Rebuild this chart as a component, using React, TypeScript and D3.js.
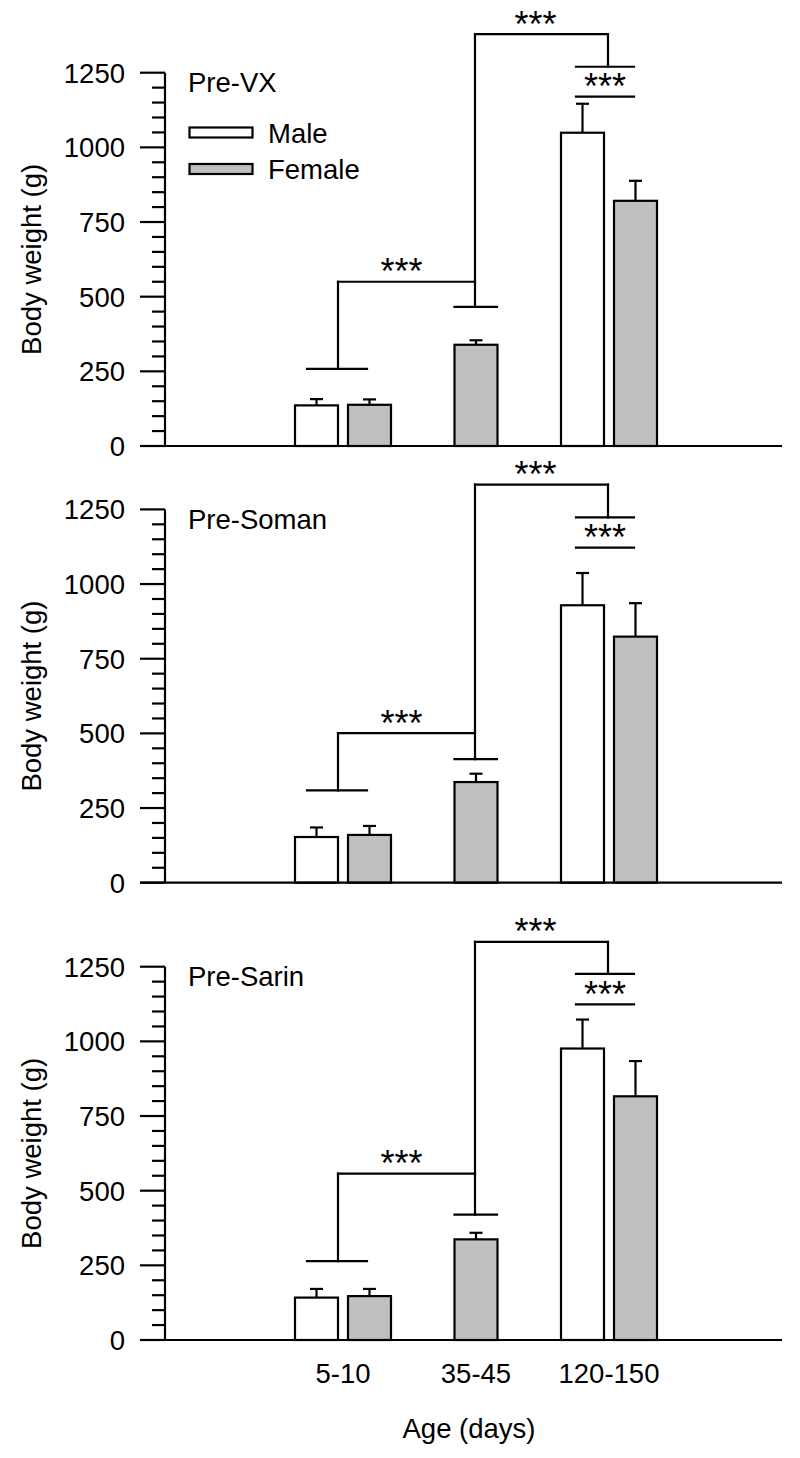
import React from "react";
import * as d3 from "d3";

// ---------- data ----------
const categories = ["5-10", "35-45", "120-150"];
const panelTitles = ["Pre-VX", "Pre-Soman", "Pre-Sarin"];
const yTickValues = d3.range(0, 1251, 50);

// means (g); null = no bar
const vxMale = [136, null, 1049];
const vxFemale = [138, 339, 821];
const vxMaleSem = [21, null, 97];
const vxFemaleSem = [18, 15, 67];

const somanMale = [153, null, 929];
const somanFemale = [160, 337, 824];
const somanMaleSem = [32, null, 108];
const somanFemaleSem = [30, 28, 112];

const sarinMale = [142, null, 976];
const sarinFemale = [147, 337, 816];
const sarinMaleSem = [29, null, 97];
const sarinFemaleSem = [24, 22, 118];

// significance bracket levels (g): [young base, young join, juvenile base, adult join, adult base, sex line]
const vxBrackets = [258, 550, 466, 1379, 1270, 1170];
const somanBrackets = [309, 501, 414, 1333, 1223, 1122];
const sarinBrackets = [264, 557, 420, 1333, 1226, 1124];

const legendLabels = ["Male", "Female"];

// ---------- layout ----------
const W = 800;
const H = 1458;
const axisX = 165;
const axisEnd = 782;
const panelZeroY = [446, 882.7, 1340];
const panelHeight = 373.3;
const barW = 43;
const barOffset = 26.5;
const FONT = "'Liberation Sans', Arial, Helvetica, sans-serif";
const FS = 27.5;
const GRAY = "#c0c0c0";
const SW = 2.2;

const x = d3.scalePoint<string>().domain(categories).range([343, 609]);

const panelData = [
  { male: vxMale, female: vxFemale, maleSem: vxMaleSem, femaleSem: vxFemaleSem, br: vxBrackets },
  { male: somanMale, female: somanFemale, maleSem: somanMaleSem, femaleSem: somanFemaleSem, br: somanBrackets },
  { male: sarinMale, female: sarinFemale, maleSem: sarinMaleSem, femaleSem: sarinFemaleSem, br: sarinBrackets },
];

function Panel({ idx }: { idx: number }) {
  const d = panelData[idx];
  const y0 = panelZeroY[idx];
  const y = d3.scaleLinear().domain([0, 1250]).range([y0, y0 - panelHeight]);

  const bars: any[] = [];
  categories.forEach((c, i) => {
    const cx = x(c)!;
    const hasMale = d.male[i] != null;
    const entries: [number | null, number | null, string, number][] = [
      [d.male[i], d.maleSem[i], "white", hasMale ? cx - barOffset : cx],
      [d.female[i], d.femaleSem[i], GRAY, hasMale ? cx + barOffset : cx],
    ];
    entries.forEach(([v, s, fill, bx], j) => {
      if (v == null) return;
      const top = y(v);
      const errTop = y(v + (s as number));
      bars.push(
        <g key={`${c}-${j}`}>
          <line x1={bx} x2={bx} y1={top} y2={errTop} stroke="black" strokeWidth={SW} />
          <line x1={bx - 6.5} x2={bx + 6.5} y1={errTop} y2={errTop} stroke="black" strokeWidth={SW} />
          <rect x={bx - barW / 2} y={top} width={barW} height={y(0) - top} fill={fill} stroke="black" strokeWidth={SW} />
        </g>
      );
    });
  });

  const [youngBase, youngJoin, juvBase, adultJoin, adultBase, sexLine] = d.br;
  const xYoung = x(categories[0])! - 5;
  const xJuv = x(categories[1])! - 1;
  const xAdult = x(categories[2])! - 1;
  const xAdultShort = x(categories[2])! - 4;
  const ln = (x1: number, y1: number, x2: number, y2: number, k: string) => (
    <line key={k} x1={x1} y1={y1} x2={x2} y2={y2} stroke="black" strokeWidth={SW} strokeLinecap="square" />
  );
  const stars = (cx: number, baseY: number, k: string) => (
    <text key={k} x={cx} y={baseY + 2.5} textAnchor="middle" fontFamily={FONT} fontSize={36}>
      ***
    </text>
  );

  return (
    <g>
      {/* y axis */}
      <line x1={axisX} x2={axisX} y1={y(0)} y2={y(1250)} stroke="black" strokeWidth={SW} />
      {yTickValues.map((t) => {
        const major = t % 250 === 0;
        return (
          <g key={t}>
            <line x1={major ? 140 : 152} x2={axisX} y1={y(t)} y2={y(t)} stroke="black" strokeWidth={SW} />
            {major && (
              <text x={125} y={y(t)} dy="0.36em" textAnchor="end" fontFamily={FONT} fontSize={FS}>
                {t}
              </text>
            )}
          </g>
        );
      })}
      <text
        transform={`translate(41.4,${(y(0) + y(1250)) / 2}) rotate(-90)`}
        textAnchor="middle"
        fontFamily={FONT}
        fontSize={FS}
      >
        Body weight (g)
      </text>
      {/* title */}
      <text x={188} y={y(1250) + 19.7} fontFamily={FONT} fontSize={FS}>
        {panelTitles[idx]}
      </text>
      {bars}
      {/* x axis */}
      <line x1={140} x2={axisEnd} y1={y(0)} y2={y(0)} stroke="black" strokeWidth={SW} />
      {/* brackets */}
      {ln(xYoung - 31, y(youngBase), xYoung + 29, y(youngBase), "a1")}
      {ln(xYoung, y(youngBase), xYoung, y(youngJoin), "a2")}
      {ln(xYoung, y(youngJoin), xJuv, y(youngJoin), "a3")}
      {ln(xJuv - 20.5, y(juvBase), xJuv + 22, y(juvBase), "b1")}
      {ln(xJuv, y(juvBase), xJuv, y(adultJoin), "b2")}
      {ln(xJuv, y(adultJoin), xAdult, y(adultJoin), "b3")}
      {ln(xAdult, y(adultJoin), xAdult, y(adultBase), "b4")}
      {ln(xAdultShort - 29, y(adultBase), xAdultShort + 29, y(adultBase), "b5")}
      {ln(xAdultShort - 29, y(sexLine), xAdultShort + 29, y(sexLine), "c1")}
      {stars((xYoung + xJuv) / 2 - 5, y(youngJoin), "s1")}
      {stars((xJuv + xAdult) / 2 - 6, y(adultJoin), "s2")}
      {stars(xAdultShort, y(sexLine), "s3")}
      {idx === 0 && (
        <g>
          {legendLabels.map((l, i) => (
            <g key={l}>
              <rect x={189.5} y={127.5 + i * 36.5} width={63} height={10} fill={i === 0 ? "white" : GRAY} stroke="black" strokeWidth={SW} />
              <text x={268} y={142.6 + i * 36} fontFamily={FONT} fontSize={FS}>
                {l}
              </text>
            </g>
          ))}
        </g>
      )}
    </g>
  );
}

export default function App() {
  const yBottom = panelZeroY[2];
  return (
    <svg
      width={W}
      height={H}
      viewBox={`0 0 ${W} ${H}`}
      style={{ position: "absolute", left: 0, top: 0, background: "white" }}
    >
      <rect width={W} height={H} fill="white" />
      {panelTitles.map((_, i) => (
        <Panel key={i} idx={i} />
      ))}
      {categories.map((c) => (
        <text key={c} x={x(c)!} y={yBottom + 43} textAnchor="middle" fontFamily={FONT} fontSize={FS}>
          {c}
        </text>
      ))}
      <text x={469} y={1438} textAnchor="middle" fontFamily={FONT} fontSize={FS}>
        Age (days)
      </text>
    </svg>
  );
}
